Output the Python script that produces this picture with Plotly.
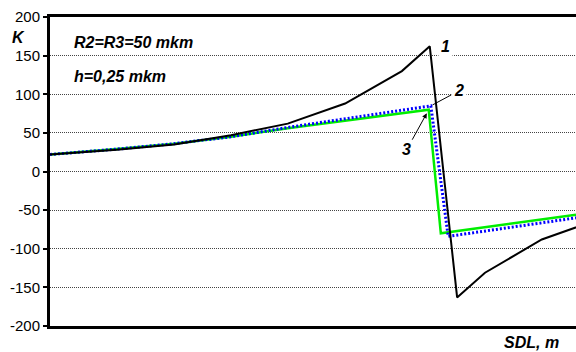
import plotly.graph_objects as go

# Distance along the line, SDL (m), and coefficient K for three cases
sdl_1 = [0, 1.27, 2.36, 3.44, 4.52, 5.61, 6.69, 7.22, 7.74, 8.27, 9.35, 10.43]
k_1 = [22, 28, 35, 47, 62, 88, 130, 162, -163, -131, -88, -62]

sdl_2 = [0, 1.27, 2.36, 3.44, 4.52, 5.61, 6.69, 7.24, 7.57, 10.0]
k_2 = [22, 29, 36, 45, 57, 68, 79, 85, -84, -60]

sdl_3 = [0, 1.27, 2.36, 3.44, 4.52, 5.61, 6.69, 7.20, 7.43, 10.0]
k_3 = [22, 29, 36, 45, 56, 66, 76, 80, -80, -56]

y_ticks = [-200, -150, -100, -50, 0, 50, 100, 150, 200]

FONT = "Liberation Sans, Arial, Helvetica, sans-serif"
bi = dict(family=FONT, size=16, color="black", weight="bold", style="italic")

fig = go.Figure()
fig.add_trace(go.Scatter(x=sdl_3, y=k_3, mode="lines",
                         line=dict(color="#00ee00", width=2.5)))
fig.add_trace(go.Scatter(x=sdl_2, y=k_2, mode="lines",
                         line=dict(color="#0000ff", width=3, dash="2px,2px")))
fig.add_trace(go.Scatter(x=sdl_1, y=k_1, mode="lines",
                         line=dict(color="black", width=2)))

annotations = [
    dict(text="K", xref="paper", yref="paper", x=-0.059, y=0.934,
         xanchor="center", yanchor="middle", showarrow=False,
         font=dict(bi, size=16)),
    dict(text="R2=R3=50 mkm", xref="paper", yref="paper", x=0.042, y=0.916,
         xanchor="left", yanchor="middle", showarrow=False, font=bi),
    dict(text="h=0,25 mkm", xref="paper", yref="paper", x=0.042, y=0.809,
         xanchor="left", yanchor="middle", showarrow=False, font=bi),
    dict(text="SDL, m", xref="paper", yref="paper", x=0.971, y=-0.055,
         xanchor="right", yanchor="middle", showarrow=False, font=bi),
    # curve labels
    dict(text="1", x=sdl_1[7] + 0.29, y=k_1[7], showarrow=False, font=bi,
         bgcolor="white", borderpad=2),
    dict(text="2", x=sdl_2[7], y=k_2[7], ax=28, ay=-15, showarrow=True,
         arrowhead=0, arrowwidth=1, arrowcolor="black", standoff=2,
         font=bi, bgcolor="white", borderpad=2),
    dict(text="3", x=sdl_3[7], y=k_3[7], ax=-22, ay=40, showarrow=True,
         arrowhead=2, arrowsize=1, arrowwidth=1, arrowcolor="black", standoff=4,
         font=bi),
]

fig.update_layout(
    width=576, height=352,
    margin=dict(l=50, r=0, t=17, b=26),
    paper_bgcolor="white", plot_bgcolor="white",
    showlegend=False,
    annotations=annotations,
    xaxis=dict(range=[0, 10], showticklabels=False, ticks="",
               showgrid=False, zeroline=False,
               showline=True, linecolor="black", linewidth=3, mirror=True),
    yaxis=dict(range=[-200, 200], tickvals=y_ticks,
               ticktext=[str(v) for v in y_ticks],
               ticks="outside", ticklen=4, tickwidth=1.5, tickcolor="black",
               tickfont=dict(family=FONT, size=15, color="black"),
               showgrid=True, gridcolor="#444", gridwidth=1, griddash="1px,1px",
               zeroline=False,
               showline=True, linecolor="black", linewidth=3),
)

fig.write_html("out.html")
